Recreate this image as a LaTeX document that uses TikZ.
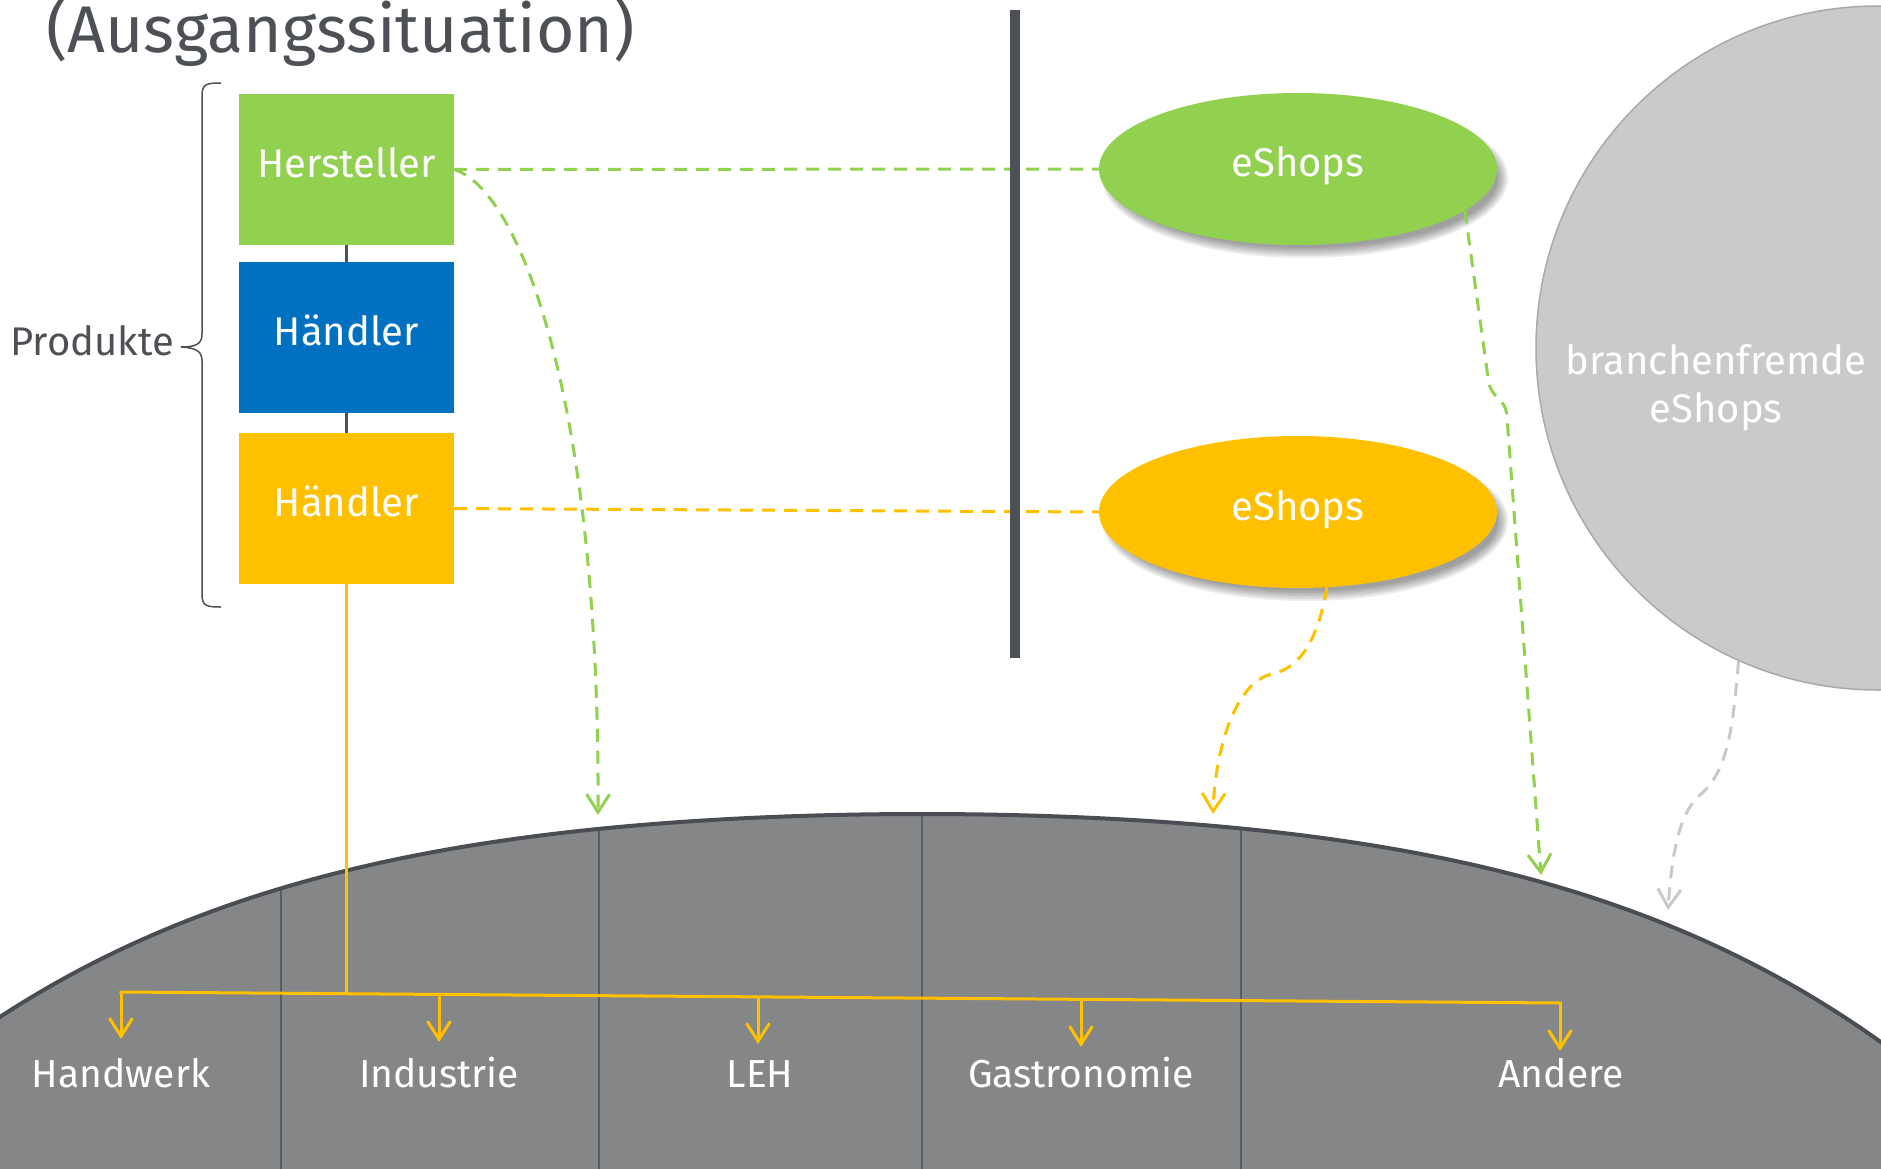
\documentclass[tikz,border=0pt]{standalone}
\usepackage{fontspec}
\setmainfont{Fira Sans}
\usetikzlibrary{shapes.geometric, arrows.meta}
\definecolor{cgreen}{HTML}{92D050}
\definecolor{cblue}{HTML}{0070C0}
\definecolor{cyellow}{HTML}{FFC000}
\definecolor{cdark}{HTML}{4D5156}
\definecolor{cdome}{HTML}{858688}
\definecolor{cdomeline}{HTML}{4A4D51}
\definecolor{cdiv}{HTML}{5A5D61}
\definecolor{ccircle}{HTML}{C9CACC}
\definecolor{ccircleline}{HTML}{A8A9AB}
\definecolor{cgreydash}{HTML}{C8C9CB}
\begin{document}
\begin{tikzpicture}[x=1pt,y=-1pt,
  declare function={sq(\t)=(\t/1000-0.922)*(\t/1000-0.922); domey(\t)=814+129.73*sq(\t)+121.37*sq(\t)*sq(\t)+8*sq(\t)*sq(\t)*sq(\t);},
  box/.style={rectangle, minimum width=215pt, minimum height=151pt, inner sep=0pt, text=white, text height=28pt, text depth=12pt, font=\fontsize{40}{48}\selectfont},
  eshop/.style={ellipse, minimum width=398pt, minimum height=152pt, inner sep=0pt, text=white, text height=28pt, text depth=12pt, font=\fontsize{40}{48}\selectfont},
  lab/.style={anchor=base, inner sep=0pt, text=white, font=\fontsize{39}{46}\selectfont},
  gdash/.style={cgreen, line width=3pt, dash pattern=on 13pt off 9pt},
  ydash/.style={cyellow, line width=3pt, dash pattern=on 13pt off 9pt},
  grdash/.style={cgreydash, line width=3pt, dash pattern=on 13pt off 9pt},
  vtip/.style={-{Straight Barb[length=18pt,width=23pt]}},
  ysolid/.style={cyellow, line width=3pt},
  shadowfill/.style={black, opacity=0.075}
]
\useasboundingbox (0,0) rectangle (1881,1169);

% title
\node[anchor=base west, inner sep=0pt, text=cdark, font=\fontsize{66}{78}\selectfont] (title) at (46,53) {(Ausgangssituation)};

% grey circle
\node[circle, minimum size=684pt, inner sep=0pt, fill=ccircle, draw=ccircleline, line width=1.5pt] (c) at (1878,348) {};
\node[align=center, inner sep=0pt, text=white, font=\fontsize{40}{48}\selectfont] (bt) at (1716,388) {branchenfremde\\eShops};

% soft shadows of the eShops ellipses
\foreach \k in {0,...,5} {
  \fill[shadowfill] (1305,178) ellipse [x radius={(193+2*\k)*1pt}, y radius={(70+2*\k)*1pt}];
  \fill[shadowfill] (1305,521) ellipse [x radius={(193+2*\k)*1pt}, y radius={(70+2*\k)*1pt}];
}

% boxes
\node[box, fill=cgreen] (hst) at (346.5,169.5) {Hersteller};
\node[box, fill=cblue] (h1) at (346.5,337.5) {Händler};
\node[box, fill=cyellow] (h2) at (346.5,508.5) {Händler};
\draw[cdark, line width=3pt] (hst.south) -- (h1.north);
\draw[cdark, line width=3pt] (h1.south) -- (h2.north);

% eShops
\node[eshop, fill=cgreen] (e1) at (1298,169) {eShops};
\node[eshop, fill=cyellow] (e2) at (1298,512) {eShops};

% brace and label
\draw[cdark, line width=1.5pt] (221,83) .. controls (206,83) and (202,84) .. (202,96) -- (202,334)
  .. controls (202,344) and (196,347) .. (181,347) .. controls (196,348) and (202,351) .. (202,361)
  -- (202,594) .. controls (202,606) and (206,607) .. (221,607);
\node[anchor=base east, inner sep=0pt, text=cdark, font=\fontsize{40}{48}\selectfont] (prod) at (174,355) {Produkte};

% dome
\fill[cdome] plot[domain=-30:1911, samples=160, variable=\t] (\t,{domey(\t)}) -- (1911,1200) -- (-30,1200) -- cycle;
\foreach \xx in {281,599,922,1241} {
  \draw[cdiv, line width=1.5pt] (\xx,{domey(\xx)}) -- (\xx,1175);
}
\draw[cdomeline, line width=4pt] plot[domain=-30:1911, samples=160, variable=\t] (\t,{domey(\t)});

% dashed connectors
\draw[gdash] (hst.east) -- (e1.west);
\draw[ydash] (h2.east) -- (e2.west);

% vertical bar
\fill[cdark] (1010,10) rectangle (1020,658);

\coordinate (a1) at (598,815);
\coordinate (a2) at (1213,814);
\coordinate (a4) at (1541,875);
\coordinate (a5) at (1668,910);
\draw[gdash, vtip] (hst.east) .. controls (520,190) and (600,400) .. (a1);
\draw[gdash, vtip, rounded corners=10pt] (e1.-14) -- (1490,392) -- (1506,404) -- (a4);
\draw[ydash, vtip] (e2.-69) .. controls (1318,640) and (1300,668) .. (1272,674) .. controls (1235,682) and (1215,750) .. (a2);
\draw[grdash, vtip] (c.-114) .. controls (1733,720) and (1730,770) .. (1700,795) .. controls (1680,812) and (1672,850) .. (a5);

% distribution lines
\coordinate (j0) at (346.5,993.7);
\coordinate (d1) at (121,992);
\coordinate (d2) at (439,994.4);
\coordinate (d3) at (758,996.9);
\coordinate (d4) at (1081,999.3);
\coordinate (d5) at (1560,1003);
\coordinate (t1) at (121,1039);
\coordinate (t2) at (439,1042);
\coordinate (t3) at (758,1044);
\coordinate (t4) at (1081,1047);
\coordinate (t5) at (1560,1051);
\draw[ysolid] (h2.south) -- (j0);
\draw[ysolid, line cap=rect] (d1) -- (d5);
\draw[ysolid, vtip] (d1) -- (t1);
\draw[ysolid, vtip] (d2) -- (t2);
\draw[ysolid, vtip] (d3) -- (t3);
\draw[ysolid, vtip] (d4) -- (t4);
\draw[ysolid, vtip] (d5) -- (t5);

% sector labels
\node[lab] (l1) at (121,1087) {Handwerk};
\node[lab] (l2) at (439,1087) {Industrie};
\node[lab] (l3) at (760,1087) {LEH};
\node[lab] (l4) at (1081,1087) {Gastronomie};
\node[lab] (l5) at (1561,1087) {Andere};
\end{tikzpicture}
\end{document}
